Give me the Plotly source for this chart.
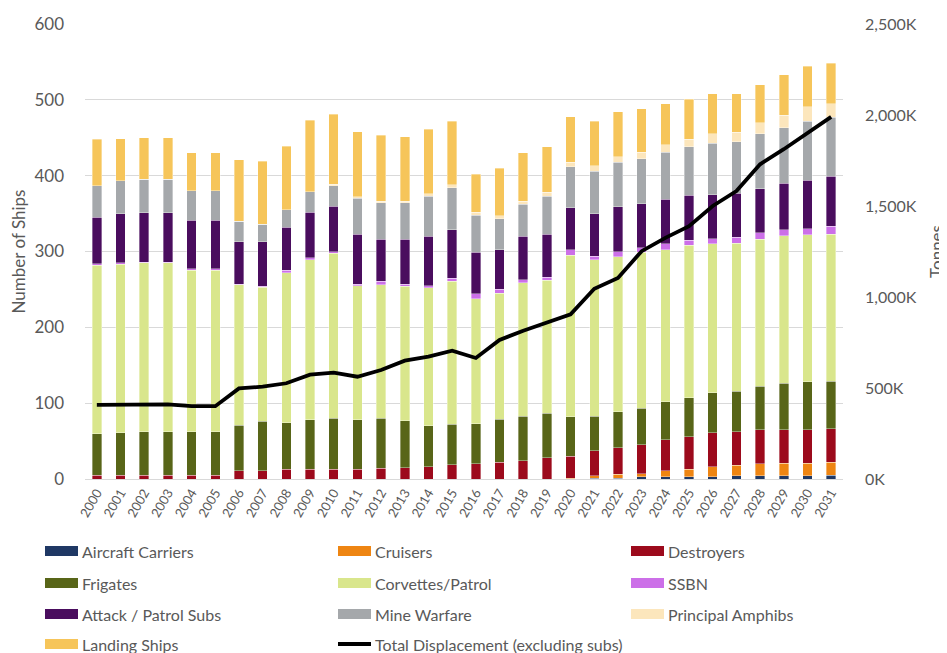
import plotly.graph_objects as go

years = [str(y) for y in range(2000, 2032)]

carriers = [0, 0, 0, 0, 0, 0, 0, 0, 0, 0, 0, 0, 0, 0, 0, 0,
            0, 0, 0, 0, 0, 1, 1, 3, 3, 3, 3, 4, 4, 4, 4, 5]
cruisers = [0, 0, 0, 0, 0, 0, 0, 0, 0, 0, 0, 0, 0, 0, 0, 0,
            0, 0, 0, 0, 1, 3, 5, 4, 8, 10, 13, 14, 16, 17, 17, 17]
destroyers = [5, 5, 5, 5, 5, 5, 11, 11, 13, 13, 13, 13, 14, 15, 16, 19,
              20, 22, 24, 28, 29, 33, 35, 38, 41, 43, 45, 44, 45, 44, 44, 44]
frigates = [55, 56, 57, 57, 57, 57, 60, 65, 61, 65, 67, 65, 66, 62, 54, 53,
            53, 57, 59, 59, 52, 46, 48, 48, 50, 51, 53, 54, 57, 61, 63, 63]
corvettes = [222, 222, 223, 223, 213, 213, 185, 177, 198, 211, 218, 177, 176, 177, 182, 189,
             165, 166, 176, 175, 213, 206, 204, 206, 200, 201, 196, 195, 194, 195, 194, 194]
ssbn = [2, 2, 1, 1, 2, 2, 1, 1, 3, 3, 2, 2, 5, 3, 3, 4,
        6, 5, 4, 4, 7, 5, 7, 6, 8, 7, 7, 8, 9, 8, 8, 10]
attack_subs = [61, 65, 65, 65, 64, 64, 56, 59, 57, 60, 60, 66, 55, 59, 65, 64,
               55, 52, 57, 57, 56, 56, 59, 58, 59, 59, 58, 58, 58, 61, 64, 66]
mine_warfare = [42, 43, 44, 44, 39, 39, 27, 23, 23, 27, 27, 47, 48, 48, 53, 55,
                49, 41, 42, 50, 54, 56, 59, 59, 62, 64, 68, 68, 72, 73, 78, 78]
principal_amphibs = [0, 0, 0, 0, 0, 0, 0, 0, 0, 0, 2, 2, 2, 2, 3, 4,
                     4, 4, 4, 5, 6, 7, 7, 9, 10, 10, 12, 12, 15, 17, 19, 18]
landing_ships = [61, 56, 55, 55, 50, 50, 81, 83, 84, 94, 92, 86, 87, 85, 85, 84,
                 50, 63, 64, 60, 60, 59, 59, 57, 54, 53, 53, 51, 50, 53, 53, 53]

# total displacement, thousand tonnes
displacement = [407, 407, 408, 410, 400, 400, 498, 507, 526, 573, 584, 562, 599, 650, 672, 705,
                665, 764, 815, 862, 905, 1045, 1105, 1252, 1325, 1389, 1500, 1582, 1729, 1812, 1904, 1990]

line_name = "Total Displacement (excluding subs)"

series = [
    ("Aircraft Carriers", carriers, "#1F3864"),
    ("Cruisers", cruisers, "#EE8512"),
    ("Destroyers", destroyers, "#9C0A1C"),
    ("Frigates", frigates, "#586518"),
    ("Corvettes/Patrol", corvettes, "#D9E68C"),
    ("SSBN", ssbn, "#CC6FE8"),
    ("Attack / Patrol Subs", attack_subs, "#4A0D5E"),
    ("Mine Warfare", mine_warfare, "#A5A8AB"),
    ("Principal Amphibs", principal_amphibs, "#FCE6BC"),
    ("Landing Ships", landing_ships, "#F6C55A"),
]

# page body adds an 8px margin, so the figure is 8px smaller than the window
OFF = 8
W, H = 947 - OFF, 653 - OFF
ML, MR, MT, MB = 77, 104, 16, 174
pw, ph = W - ML - MR, H - MT - MB


def px(x):
    # window pixel -> paper x
    return (x - OFF - ML) / pw


def py(y):
    # window pixel -> paper y
    return (H - MB - (y - OFF)) / ph


fig = go.Figure()
for name, vals, col in series:
    fig.add_trace(go.Bar(x=years, y=vals, name=name,
                         marker=dict(color=col, line=dict(width=0.6, color="rgba(255,255,255,0.6)"))))

fig.add_trace(go.Scatter(x=years, y=displacement, name=line_name,
                         mode="lines", line=dict(color="black", width=3.8), yaxis="y2"))

grey = "#595959"

# legend drawn by hand: 3 columns, wide swatches
shapes = []
annotations = []
col_x = [45, 338, 631]
row_y = [551, 583, 614, 644]
entries = [(n, c) for n, _, c in series] + [(line_name, None)]
for i, (name, col) in enumerate(entries):
    cx = col_x[i % 3]
    cy = row_y[i // 3]
    if col is None:
        shapes.append(dict(type="line", xref="paper", yref="paper",
                           x0=px(cx), x1=px(cx + 33), y0=py(cy), y1=py(cy),
                           line=dict(color="black", width=4)))
    else:
        shapes.append(dict(type="rect", xref="paper", yref="paper",
                           x0=px(cx), x1=px(cx + 33), y0=py(cy - 5), y1=py(cy + 5),
                           fillcolor=col, line=dict(width=0)))
    annotations.append(dict(text=name, xref="paper", yref="paper", x=px(cx + 35), y=py(cy),
                            xanchor="left", yanchor="middle", showarrow=False,
                            font=dict(size=16, color=grey)))

fig.update_layout(
    width=W, height=H,
    margin=dict(l=ML, r=MR, t=MT, b=MB),
    barmode="stack", bargap=0.6, showlegend=False,
    plot_bgcolor="white", paper_bgcolor="white",
    font=dict(family="Lato", color=grey, size=16),
    xaxis=dict(tickangle=-60, tickfont=dict(size=13), showgrid=False, automargin=False,
               showline=True, linecolor="#D9D9D9", ticks=""),
    yaxis=dict(range=[0, 600], dtick=100, gridcolor="#D9D9D9", zeroline=False, automargin=False,
               title=dict(text="Number of Ships", font=dict(size=17), standoff=8),
               tickfont=dict(size=17), ticklabelstandoff=20),
    yaxis2=dict(range=[0, 2500], dtick=500, overlaying="y", side="right", automargin=False,
                showgrid=False, zeroline=False, tickformat=",d", ticksuffix="K",
                title=dict(text="Tonnes", font=dict(size=17), standoff=16),
                tickfont=dict(size=16), ticklabelstandoff=21),
    shapes=shapes,
    annotations=annotations,
)

fig.write_html("out.html")
